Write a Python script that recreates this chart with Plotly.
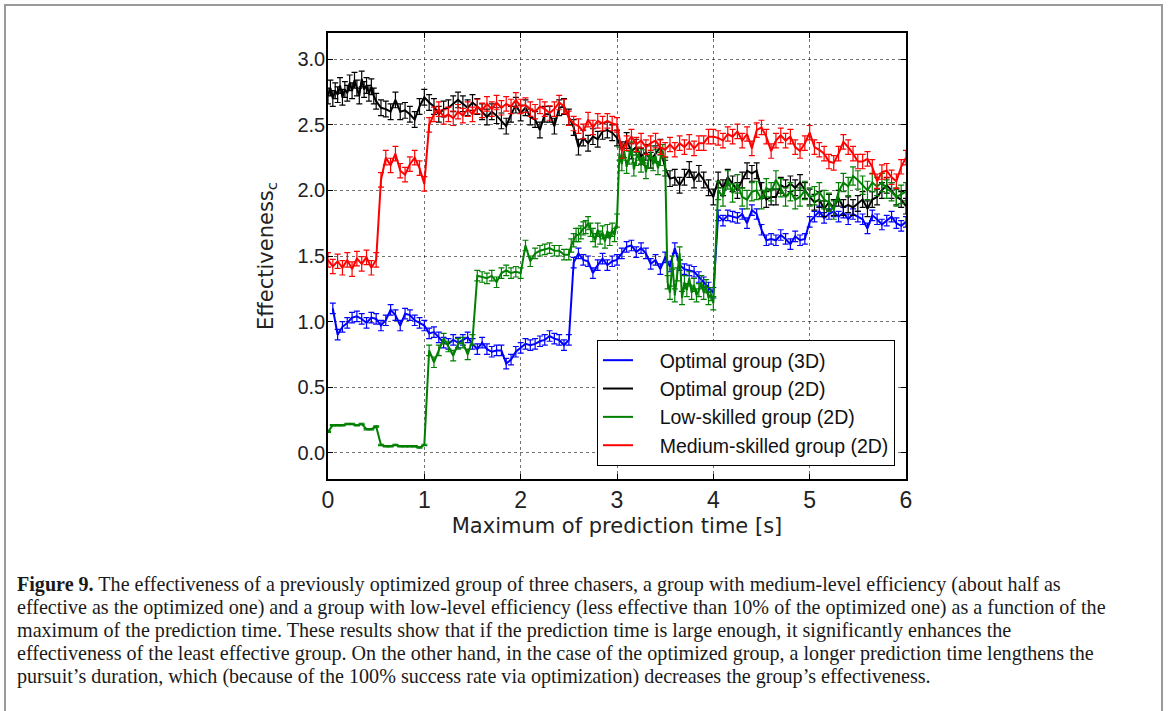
import plotly.graph_objects as go

# ---------------- data ----------------
def grid(start, stop, step):
    n = int(round((stop - start) / step))
    return [round(start + i * step, 4) for i in range(n + 1)]

x_red = grid(0.0, 6.0, 0.05)
red = [1.47, 1.42, 1.46, 1.41, 1.47, 1.40, 1.48, 1.44, 1.49, 1.41, 1.47,
       2.08, 2.25, 2.19, 2.28, 2.15, 2.12, 2.20, 2.25, 2.17, 2.05,
       2.50, 2.58, 2.62, 2.56, 2.58, 2.55, 2.60, 2.57, 2.62, 2.58,
       2.64, 2.61, 2.66, 2.62, 2.67, 2.63, 2.66, 2.64, 2.69, 2.64,
       2.65, 2.62, 2.60, 2.64, 2.62, 2.59, 2.62, 2.67, 2.64, 2.55,
       2.51, 2.49, 2.45, 2.54, 2.48, 2.53, 2.51, 2.53, 2.51, 2.50,
       2.30, 2.36, 2.41, 2.35, 2.38, 2.33, 2.36, 2.38, 2.33, 2.31,
       2.35, 2.31, 2.36, 2.33, 2.37, 2.32, 2.36, 2.36, 2.41, 2.41,
       2.40, 2.38, 2.43, 2.41, 2.45, 2.38, 2.43, 2.32, 2.46, 2.48,
       2.41, 2.30, 2.38, 2.42, 2.38, 2.41, 2.33, 2.30, 2.36, 2.44,
       2.33, 2.31, 2.28, 2.22, 2.21, 2.28, 2.37, 2.33, 2.28, 2.22,
       2.22, 2.24, 2.18, 2.07, 2.14, 2.15, 2.10, 2.07, 2.18, 2.25]
red_err = 0.055

x_black = grid(0.0, 0.5, 0.025) + grid(0.55, 6.0, 0.05)
black = [2.72, 2.78, 2.70, 2.76, 2.73, 2.80, 2.71, 2.77, 2.74, 2.82, 2.76,
         2.84, 2.78, 2.72, 2.85, 2.77, 2.80, 2.74, 2.79, 2.72, 2.68,
         2.63, 2.62, 2.60, 2.69, 2.60, 2.61, 2.58, 2.54, 2.64, 2.71,
         2.67, 2.64, 2.58, 2.62, 2.63, 2.66, 2.69, 2.66, 2.63, 2.67,
         2.64, 2.60, 2.56, 2.60, 2.57, 2.53, 2.49, 2.58, 2.65, 2.59,
         2.63, 2.56, 2.54, 2.46, 2.58, 2.58, 2.49, 2.63, 2.64, 2.56,
         2.48, 2.33, 2.40, 2.36, 2.41, 2.39, 2.45, 2.46, 2.44, 2.40,
         2.31, 2.38, 2.30, 2.33, 2.26, 2.29, 2.23, 2.28, 2.33, 2.17,
         2.09, 2.10, 2.04, 2.10, 2.16, 2.08, 2.13, 2.08, 2.02, 1.95,
         2.08, 2.02, 2.10, 2.05, 2.00, 2.08, 2.15, 2.13, 2.15, 2.00,
         1.93, 1.95, 1.95, 2.04, 2.02, 2.05, 2.02, 2.06, 2.00, 1.95,
         1.91, 1.93, 1.86, 1.91, 1.87, 1.94, 1.87, 1.89, 1.87, 1.90,
         1.93, 1.86, 1.93, 1.95, 2.00, 2.04, 2.00, 1.95, 1.93, 1.88]
black_err = 0.06

x_blue = grid(0.05, 6.0, 0.05)
blue = [1.10, 0.90, 0.96, 0.99, 1.03, 1.04, 1.02, 0.99, 1.03, 1.02,
        0.97, 1.01, 1.09, 1.05, 0.97, 1.06, 1.05, 1.01, 0.99, 0.97,
        0.91, 0.92, 0.88, 0.84, 0.83, 0.86, 0.84, 0.86, 0.88, 0.83,
        0.79, 0.84, 0.79, 0.77, 0.78, 0.78, 0.68, 0.71, 0.77, 0.80,
        0.83, 0.82, 0.83, 0.85, 0.86, 0.89, 0.87, 0.86, 0.82, 0.86,
        1.45, 1.52, 1.47, 1.46, 1.37, 1.43, 1.48, 1.43, 1.46, 1.47,
        1.52, 1.57, 1.58, 1.53, 1.56, 1.52, 1.44, 1.47, 1.40, 1.49,
        1.42, 1.56, 1.43, 1.40, 1.39, 1.38, 1.34, 1.30, 1.26, 1.22,
        1.81, 1.77, 1.81, 1.80, 1.79, 1.82, 1.75, 1.85, 1.82, 1.70,
        1.62, 1.63, 1.62, 1.66, 1.63, 1.59, 1.65, 1.62, 1.63, 1.76,
        1.80, 1.84, 1.79, 1.82, 1.84, 1.80, 1.83, 1.78, 1.82, 1.80,
        1.78, 1.71, 1.81, 1.78, 1.74, 1.77, 1.80, 1.75, 1.73, 1.76]
blue_err = 0.04

x_green = grid(0.0, 2.5, 0.05) + grid(2.525, 4.0, 0.025) + grid(4.05, 6.0, 0.05)
green = [0.16, 0.21, 0.21, 0.21, 0.22, 0.22, 0.21, 0.22, 0.18, 0.18, 0.20,
         0.06, 0.05, 0.05, 0.06, 0.05, 0.05, 0.05, 0.05, 0.04, 0.06,
         0.78, 0.69, 0.78, 0.87, 0.81, 0.74, 0.83, 0.84, 0.75, 0.86,
         1.35, 1.34, 1.33, 1.35, 1.30, 1.37, 1.39, 1.37, 1.38, 1.37,
         1.58, 1.46, 1.52, 1.54, 1.55, 1.56, 1.54, 1.54, 1.51, 1.51,
         1.58, 1.62, 1.66, 1.66, 1.68, 1.71, 1.72, 1.75, 1.70, 1.66,
         1.62, 1.70, 1.64, 1.68, 1.61, 1.69, 1.63, 1.70, 1.66, 1.77,
         2.28, 2.20, 2.30, 2.18, 2.25, 2.32, 2.16, 2.24, 2.28, 2.19,
         2.26, 2.14, 2.22, 2.29, 2.20, 2.26, 2.17, 2.24, 2.30, 2.20,
         1.30, 1.22, 1.45, 1.20, 1.36, 1.52, 1.18, 1.30, 1.24, 1.33,
         1.22, 1.28, 1.20, 1.24, 1.30, 1.22, 1.27, 1.18, 1.21, 1.14,
         2.00, 1.95, 2.08, 1.98, 2.05, 1.95, 1.93, 1.99, 2.00, 1.93,
         2.02, 1.99, 2.08, 2.02, 1.95, 1.99, 1.93, 1.95, 2.00, 1.95,
         1.96, 1.99, 1.93, 1.91, 1.85, 1.99, 2.06, 2.03, 2.11, 2.08,
         2.04, 2.00, 2.06, 2.03, 2.06, 2.01, 1.99, 1.95, 1.97, 1.99]
green_err = [0.005] * 21 + [0.04] * 30 + [0.05] * 60 + [0.07] * 40

x_ticks = [0, 1, 2, 3, 4, 5, 6]
y_ticks = [0.0, 0.5, 1.0, 1.5, 2.0, 2.5, 3.0]

caption = [
    "<b>Figure 9.</b> The effectiveness of a previously optimized group of three chasers, a group with medium-level efficiency (about half as",
    "effective as the optimized one) and a group with low-level efficiency (less effective than 10% of the optimized one) as a function of the",
    "maximum of the prediction time. These results show that if the prediction time is large enough, it significantly enhances the",
    "effectiveness of the least effective group. On the other hand, in the case of the optimized group, a longer prediction time lengthens the",
    "pursuit\u2019s duration, which (because of the 100% success rate via optimization) decreases the group\u2019s effectiveness.",
]

# ---------------- figure ----------------
W, H = 1168, 711
L, R, T, B = 328, 262, 33, 232
PW, PH = W - L - R, H - T - B

def px(x):
    return (x - L) / PW

def py(y):
    return (H - B - y) / PH

fig = go.Figure()

PAD = "\u00a0\u00a0\u00a0\u00a0"
series = [
    ("Optimal group (3D)", x_blue, blue, dict(type="constant", value=blue_err), "#0000ff"),
    ("Optimal group (2D)", x_black, black, dict(type="constant", value=black_err), "#000000"),
    ("Low-skilled group (2D)", x_green, green, dict(type="data", array=green_err), "#007f00"),
    ("Medium-skilled group (2D)", x_red, red, dict(type="constant", value=red_err), "#ff0000"),
]
for name, xs, ys, err, col in series:
    err = dict(err, visible=True, color=col, thickness=1.2, width=3)
    fig.add_trace(go.Scatter(
        x=xs, y=ys, name=PAD + name, mode="lines",
        line=dict(color=col, width=2),
        error_y=err, legendgroup=name,
    ))

axis_common = dict(
    showline=True, linecolor="black", linewidth=1.5, mirror="allticks",
    ticks="inside", ticklen=5, tickwidth=1, tickcolor="black",
    showgrid=True, gridcolor="rgba(0,0,0,0.55)", gridwidth=1, griddash="dot",
    zeroline=False,
)

fig.update_xaxes(
    range=[0, 6], tickvals=x_ticks, ticktext=[str(v) for v in x_ticks],
    tickfont=dict(family="Liberation Sans", size=23, color="#222"),
    title=dict(text="Maximum of prediction time [s]",
               font=dict(family="DejaVu Sans", size=21, color="#222"), standoff=6),
    **axis_common,
)
fig.update_yaxes(
    range=[-0.2, 3.2], tickvals=y_ticks, ticktext=[f"{v:.1f}" for v in y_ticks],
    tickfont=dict(family="Liberation Sans", size=20, color="#222"),
    ticklabelstandoff=-3,
    title=dict(text="Effectiveness<sub>c</sub>",
               font=dict(family="DejaVu Sans", size=21, color="#222"), standoff=18),
    **axis_common,
)

shapes = [dict(type="rect", xref="paper", yref="paper",
               x0=px(5), x1=px(1162), y0=py(5), y1=py(730),
               line=dict(color="#9a9a9a", width=2), fillcolor="rgba(0,0,0,0)")]

annotations = []
for i, line in enumerate(caption):
    annotations.append(dict(
        xref="paper", yref="paper", x=px(15), y=py(584 + 23.2 * i),
        xanchor="left", yanchor="middle", showarrow=False, text=line,
        font=dict(family="Liberation Serif", size=20.1, color="#1a1a1a"),
    ))

fig.update_layout(
    width=W, height=H,
    margin=dict(l=L, r=R, t=T, b=B),
    paper_bgcolor="white", plot_bgcolor="white",
    showlegend=True,
    legend=dict(
        x=px(895), xanchor="right", y=py(466), yanchor="bottom",
        bgcolor="white", bordercolor="black", borderwidth=1,
        font=dict(family="Liberation Sans", size=19.5, color="#111"),
        itemwidth=30, tracegroupgap=0,
    ),
    shapes=shapes, annotations=annotations,
)

fig.write_html(
    "out.html",
    config={"displayModeBar": False},
    post_script="document.body.style.margin='0';document.body.style.overflow='hidden';",
)
